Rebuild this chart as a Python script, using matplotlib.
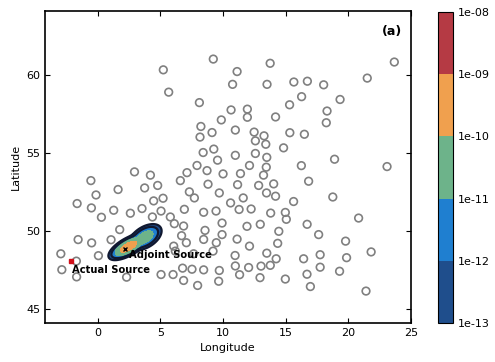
import numpy as np
import matplotlib
matplotlib.use("Agg")
import matplotlib.pyplot as plt
from matplotlib.colors import ListedColormap, BoundaryNorm

# station positions (longitude, latitude)
lon = [5.24, 9.23, 11.13, 13.77, 10.77, 13.52, 15.66, 16.74, 18.04, 21.52,
       23.68, 5.67, 8.12, 10.65, 11.95, 11.95, 15.32, 16.28, 19.35, 18.31,
       18.25, 9.87, 14.20, 8.24, 9.13, 8.17, 10.99, 12.49, 13.28, 12.59,
       13.42, 15.34, 16.50, 14.84, 8.42, 9.27, 9.57, 10.99, 12.59, 13.50,
       13.46, 7.93, 12.12, 16.26, 18.91, 23.10, 2.94, 4.21, 7.13, 8.73,
       10.01, 11.40, 13.24, -0.54, 16.84, 6.60, 1.63, -0.13, 3.75, 4.79,
       8.81, 7.32, 7.72, 4.47, 5.22, 9.71, 11.17, 12.85, 14.05, 11.62,
       13.48, 14.20, 15.64, 18.77, 10.61, -1.64, -0.50, 0.30, 1.28, 2.61,
       3.54, 4.37, 5.06, 5.80, 6.92, 8.46, 9.45, 11.29, 12.25, 13.81,
       14.98, 15.06, 6.12, 6.86, 9.93, 11.92, 12.98, 16.72, 20.83, 1.76,
       6.70, 8.57, 8.46, 9.93, 11.13, 14.46, 17.64, -1.56, -0.48, 1.07,
       7.08, 9.47, 12.12, 14.37, 19.79, 6.07, 6.20, 9.21, -2.94, 0.06,
       7.66, 10.97, 13.50, 21.83, 16.44, 14.25, 17.76, 19.87, -1.70, -2.86,
       -1.68, 2.31, 5.06, 6.02, 6.78, 7.53, 8.46, 9.71, 10.99, 12.05,
       13.04, 13.78, 17.76, 19.31, 11.33, 6.86, 7.98, 9.66, 12.96, 14.98,
       16.71, 16.98, 21.42]
lat = [60.32, 61.01, 60.21, 60.74, 59.39, 59.39, 59.54, 59.59, 59.36, 59.79,
       60.82, 58.89, 58.22, 57.75, 57.80, 57.28, 58.08, 58.60, 58.42, 57.68,
       56.93, 57.11, 57.30, 56.69, 56.30, 56.01, 56.46, 56.33, 56.09, 55.77,
       55.55, 56.29, 56.19, 55.32, 55.02, 55.24, 54.53, 54.84, 54.96, 54.71,
       54.08, 54.19, 54.19, 54.18, 54.59, 54.12, 53.78, 53.57, 53.73, 53.86,
       53.65, 53.67, 53.57, 53.22, 53.18, 53.22, 52.65, 52.30, 52.75, 52.91,
       52.99, 52.50, 52.11, 51.92, 52.09, 52.43, 52.96, 52.91, 53.01, 52.11,
       52.43, 52.22, 51.88, 52.17, 51.79, 51.75, 51.47, 50.87, 51.32, 51.13,
       51.43, 50.89, 51.27, 50.89, 51.38, 51.19, 51.27, 51.37, 51.40, 51.14,
       51.18, 50.74, 50.46, 50.31, 50.50, 50.29, 50.42, 50.42, 50.82, 50.08,
       49.69, 50.03, 49.45, 49.76, 49.47, 49.97, 49.76, 49.44, 49.23, 49.43,
       49.24, 49.24, 49.02, 49.20, 49.34, 49.02, 48.70, 48.70, 48.53, 48.41,
       48.53, 48.42, 48.57, 48.65, 48.21, 48.21, 48.47, 48.28, 48.06, 47.51,
       47.05, 47.03, 47.20, 47.20, 47.61, 47.54, 47.50, 47.46, 47.75, 47.65,
       47.74, 47.79, 47.67, 47.41, 47.19, 46.82, 46.50, 46.77, 47.00, 46.91,
       47.22, 46.43, 46.14]

actual_src = (-2.12, 48.06)
adjoint_src = (2.15, 48.86)

levels = [1e-13, 1e-12, 1e-11, 1e-10, 1e-9, 1e-8]
level_labels = ['1e-13', '1e-12', '1e-11', '1e-10', '1e-09', '1e-08']
band_colors = ['#1f4e8c', '#1f7fd0', '#6db38a', '#f0a04e', '#b53a44']

# adjoint source density (two elongated lobes)
blobs = [  # lon0, lat0, peak, sigma_major, sigma_minor
    (2.45, 48.98, 4e-10, 0.42, 0.145),
    (3.8, 49.6, 4e-11, 0.40, 0.20),
]
angle = np.arctan2(1.85, 4.4)

gx = np.linspace(-1, 7, 400)
gy = np.linspace(47, 52, 400)
X, Y = np.meshgrid(gx, gy)
Z = np.zeros_like(X)
for x0, y0, pk, sa, sb in blobs:
    u = (X - x0) * np.cos(angle) + (Y - y0) * np.sin(angle)
    v = -(X - x0) * np.sin(angle) + (Y - y0) * np.cos(angle)
    Z += pk * np.exp(-0.5 * ((u / sa) ** 2 + (v / sb) ** 2))

fig = plt.figure(figsize=(4.95, 3.62), dpi=100)
ax = fig.add_axes([0.091, 0.108, 0.739, 0.862])
cax = fig.add_axes([0.885, 0.108, 0.030, 0.859])

ax.scatter(lon, lat, s=30, facecolors='none', edgecolors='#808080', linewidths=1.2, zorder=2)

cmap = ListedColormap(band_colors)
norm = BoundaryNorm(levels, cmap.N)
cf = ax.contourf(X, Y, Z, levels=levels, colors=band_colors, zorder=3)
ax.contour(X, Y, Z, levels=levels[:2], colors='#101830', linewidths=1.6, zorder=4)
ax.plot(adjoint_src[0], adjoint_src[1], marker='x', color='black', ms=3, mew=1, zorder=5)

ax.plot(actual_src[0], actual_src[1], marker='s', color='#d0101a', ms=3, zorder=5)
ax.text(actual_src[0] + 0.05, actual_src[1] - 0.25, 'Actual Source', fontsize=7.2,
        fontweight='bold', va='top', ha='left', zorder=6)
ax.text(2.5, 48.15, 'Adjoint Source', fontsize=7.2, fontweight='bold',
        va='bottom', ha='left', zorder=6)

ax.text(0.975, 0.955, '(a)', transform=ax.transAxes, fontsize=9, fontweight='bold',
        ha='right', va='top')

ax.set_xlim(-4.2, 25)
ax.set_ylim(44.1, 64.1)
ax.set_xticks([0, 5, 10, 15, 20, 25])
ax.set_yticks([45, 50, 55, 60])
ax.tick_params(direction='in', top=True, right=True, labelsize=8)
ax.set_xlabel('Longitude', fontsize=8)
ax.set_ylabel('Latitude', fontsize=8)
for s in ax.spines.values():
    s.set_linewidth(1.2)

# colorbar as stacked bands
sm = plt.cm.ScalarMappable(cmap=cmap, norm=norm)
cb = fig.colorbar(sm, cax=cax, ticks=levels)
cb.ax.set_yticklabels(level_labels)
cb.ax.tick_params(labelsize=8, length=0)

fig.savefig('out.png', dpi=100)
